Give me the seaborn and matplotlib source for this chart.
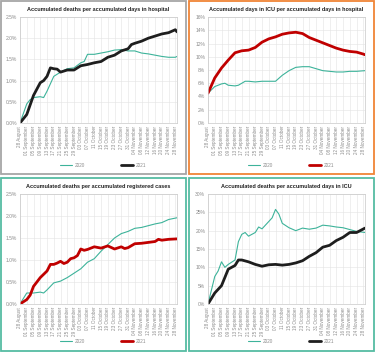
import pandas as pd
import numpy as np
import matplotlib
matplotlib.use('Agg')
import matplotlib.pyplot as plt
import matplotlib.ticker as mtick
import matplotlib.dates as mdates
from matplotlib.patches import Rectangle
import seaborn as sns

# data area
# panel 1: deaths per accumulated days in hospital (%)
hosp_dates_2020 = ['08-28', '09-01', '09-03', '09-05', '09-09', '09-11', '09-13', '09-17', '09-21', '09-25',
                   '09-29', '10-03', '10-05', '10-07', '10-11', '10-15', '10-19', '10-23', '10-27', '10-31',
                   '11-04', '11-08', '11-12', '11-16', '11-20', '11-24', '11-28', '11-29']
hosp_2020 = [0.0, 0.45, 0.55, 0.6, 0.62, 0.6, 0.75, 1.1, 1.2, 1.28,
             1.3, 1.42, 1.45, 1.62, 1.62, 1.65, 1.68, 1.72, 1.73, 1.7,
             1.7, 1.65, 1.63, 1.6, 1.57, 1.55, 1.55, 1.57]
hosp_dates_2021 = ['08-28', '09-01', '09-05', '09-09', '09-11', '09-13', '09-15', '09-17', '09-19', '09-21',
                   '09-25', '09-29', '10-03', '10-07', '10-11', '10-15', '10-19', '10-23', '10-27', '10-31',
                   '11-02', '11-04', '11-08', '11-12', '11-16', '11-20', '11-24', '11-28', '11-29']
hosp_2021 = [0.0, 0.2, 0.65, 0.95, 1.0, 1.1, 1.3, 1.28, 1.27, 1.2,
             1.25, 1.25, 1.35, 1.38, 1.42, 1.45, 1.55, 1.6, 1.7, 1.75,
             1.85, 1.88, 1.93, 2.0, 2.05, 2.1, 2.13, 2.2, 2.15]

# panel 2: ICU days per hospital days (%)
icu_dates_2020 = ['08-28', '09-01', '09-05', '09-07', '09-09', '09-13', '09-15', '09-19', '09-21', '09-25',
                  '09-29', '10-03', '10-07', '10-11', '10-15', '10-19', '10-23', '10-27', '10-31', '11-04',
                  '11-08', '11-12', '11-16', '11-20', '11-24', '11-29']
icu_2020 = [4.5, 5.5, 5.9, 6.0, 5.7, 5.6, 5.7, 6.3, 6.3, 6.2,
            6.3, 6.3, 6.3, 7.2, 7.9, 8.4, 8.5, 8.5, 8.2, 7.9,
            7.8, 7.7, 7.7, 7.8, 7.8, 7.9]
icu_dates_2021 = ['08-28', '09-01', '09-05', '09-09', '09-13', '09-17', '09-21', '09-25', '09-29', '10-03',
                  '10-07', '10-11', '10-15', '10-19', '10-23', '10-27', '10-31', '11-04', '11-08', '11-12',
                  '11-16', '11-20', '11-24', '11-28', '11-29']
icu_2021 = [4.5, 6.8, 8.3, 9.5, 10.6, 10.9, 11.0, 11.4, 12.2, 12.7,
            13.0, 13.4, 13.6, 13.7, 13.5, 12.9, 12.5, 12.1, 11.7, 11.3,
            11.0, 10.8, 10.7, 10.4, 10.3]

# panel 3: deaths per registered cases (%)
cases_dates_2020 = ['08-28', '09-01', '09-05', '09-09', '09-11', '09-13', '09-17', '09-21', '09-25', '09-29',
                    '10-03', '10-07', '10-11', '10-15', '10-19', '10-23', '10-27', '10-31', '11-04', '11-08',
                    '11-12', '11-16', '11-20', '11-24', '11-29']
cases_2020 = [0.0, 0.25, 0.25, 0.27, 0.25, 0.32, 0.48, 0.52, 0.6, 0.7,
              0.8, 0.95, 1.03, 1.2, 1.35, 1.5, 1.6, 1.65, 1.72, 1.74,
              1.78, 1.82, 1.85, 1.92, 1.96]
cases_dates_2021 = ['08-28', '09-01', '09-03', '09-05', '09-07', '09-09', '09-13', '09-15', '09-17', '09-19',
                    '09-21', '09-23', '09-25', '09-27', '09-29', '10-01', '10-03', '10-05', '10-07', '10-11',
                    '10-15', '10-19', '10-23', '10-27', '10-29', '10-31', '11-04', '11-08', '11-12', '11-16',
                    '11-18', '11-20', '11-24', '11-29']
cases_2021 = [0.0, 0.1, 0.2, 0.4, 0.5, 0.6, 0.75, 0.9, 0.9, 0.93,
              0.97, 0.92, 0.95, 1.03, 1.05, 1.1, 1.25, 1.22, 1.24, 1.3,
              1.27, 1.32, 1.25, 1.3, 1.26, 1.28, 1.37, 1.38, 1.4, 1.42,
              1.47, 1.45, 1.47, 1.48]

# panel 4: deaths per ICU days (%)
dicu_dates_2020 = ['08-28', '09-01', '09-03', '09-05', '09-07', '09-09', '09-13', '09-15', '09-17', '09-19',
                   '09-21', '09-25', '09-27', '09-29', '10-03', '10-05', '10-07', '10-09', '10-11', '10-15',
                   '10-19', '10-23', '10-27', '10-31', '11-04', '11-08', '11-12', '11-16', '11-20', '11-24',
                   '11-29']
dicu_2020 = [0.0, 7.5, 9.0, 11.5, 10.0, 10.8, 12.0, 17.0, 19.0, 19.5,
             18.5, 19.5, 21.0, 20.5, 22.5, 23.5, 25.8, 24.5, 22.0, 20.8,
             20.0, 20.7, 20.4, 20.7, 21.5, 21.3, 21.0, 20.8, 20.3, 19.8,
             19.5]
dicu_dates_2021 = ['08-28', '09-01', '09-05', '09-09', '09-13', '09-15', '09-17', '09-21', '09-25', '09-29',
                   '10-03', '10-07', '10-11', '10-15', '10-19', '10-23', '10-27', '10-31', '11-04', '11-08',
                   '11-12', '11-16', '11-20', '11-24', '11-29']
dicu_2021 = [0.0, 3.0, 5.0, 9.5, 10.5, 12.0, 12.0, 11.5, 10.8, 10.3,
             10.7, 10.8, 10.6, 10.8, 11.2, 11.8, 13.0, 14.0, 15.5, 16.0,
             17.3, 18.2, 19.5, 19.5, 20.7]

titles = ['Accumulated deaths per accumulated days in hospital',
          'Accumulated days in ICU per accumulated days in hospital',
          'Accumulated deaths per accumulated registered cases',
          'Accumulated deaths per accumulated days in ICU']

teal = '#3db39a'
red = '#c00000'
black = '#1e1e1e'


def to_dates(lst):
    return pd.to_datetime(['2021-' + d for d in lst])


panels = [
    dict(d20=hosp_dates_2020, v20=hosp_2020, d21=hosp_dates_2021, v21=hosp_2021, c21=black,
         ymax=2.5, ystep=0.5, fmt='%.1f%%', border='#a6a6a6', row=0, col=0),
    dict(d20=icu_dates_2020, v20=icu_2020, d21=icu_dates_2021, v21=icu_2021, c21=red,
         ymax=16, ystep=2, fmt='%d%%', border='#f08536', row=0, col=1),
    dict(d20=cases_dates_2020, v20=cases_2020, d21=cases_dates_2021, v21=cases_2021, c21=red,
         ymax=2.5, ystep=0.5, fmt='%.1f%%', border='#55bca3', row=1, col=0),
    dict(d20=dicu_dates_2020, v20=dicu_2020, d21=dicu_dates_2021, v21=dicu_2021, c21=black,
         ymax=30, ystep=5, fmt='%d%%', border='#55bca3', row=1, col=1),
]

sns.set_style('white')
plt.rcParams['font.family'] = ['Liberation Sans', 'DejaVu Sans']

W, H = 375, 352
fig = plt.figure(figsize=(W / 100, H / 100), dpi=100)

ticks = pd.date_range('2021-08-28', '2021-11-28', freq='4D')

for i, p in enumerate(panels):
    x0 = 1 + p['col'] * 188
    y0 = 1 + p['row'] * 177
    # panel border
    fig.patches.append(Rectangle((x0 / W, 1 - (y0 + 173) / H), 185 / W, 173 / H,
                                 transform=fig.transFigure, fill=False,
                                 edgecolor=p['border'], linewidth=1.3))
    top = 17 if p['row'] == 0 else 194
    bot = 123 if p['row'] == 0 else 304
    ax = fig.add_axes([(x0 + 19) / W, 1 - bot / H, 157 / W, (bot - top) / H])

    df20 = pd.DataFrame({'date': to_dates(p['d20']), 'value': p['v20']})
    df21 = pd.DataFrame({'date': to_dates(p['d21']), 'value': p['v21']})
    sns.lineplot(data=df20, x='date', y='value', ax=ax, color=teal, linewidth=0.8, label='2020')
    sns.lineplot(data=df21, x='date', y='value', ax=ax, color=p['c21'], linewidth=2.0, label='2021')

    ax.set_xlim(pd.Timestamp('2021-08-28'), pd.Timestamp('2021-11-29'))
    ax.set_ylim(0, p['ymax'])
    ax.set_yticks(np.arange(0, p['ymax'] + 0.001, p['ystep']))
    ax.yaxis.set_major_formatter(mtick.FormatStrFormatter(p['fmt']))
    ax.set_xticks(ticks)
    ax.xaxis.set_major_formatter(mdates.DateFormatter('%d %B'))
    ax.tick_params(axis='x', labelrotation=90, labelsize=3.3, colors='#8c8c8c', length=0, pad=2)
    ax.tick_params(axis='y', labelsize=3.6, colors='#8c8c8c', length=0, pad=2)
    ax.grid(True, color='#e4e4e4', linewidth=0.4)
    for s in ax.spines.values():
        s.set_color('#c8c8c8')
        s.set_linewidth(0.5)
    ax.set_xlabel('')
    ax.set_ylabel('')
    ax.set_title(titles[i], fontsize=4.0, fontweight='bold', pad=4, color='#222222')
    leg_y = -0.40 if p['row'] == 0 else -0.34
    ax.legend(loc='center', bbox_to_anchor=(0.53, leg_y), ncol=2, frameon=False,
              fontsize=3.4, columnspacing=7.5, handlelength=2.6, handletextpad=0.6,
              labelcolor='#8c8c8c')

fig.savefig('out.png', dpi=100)
